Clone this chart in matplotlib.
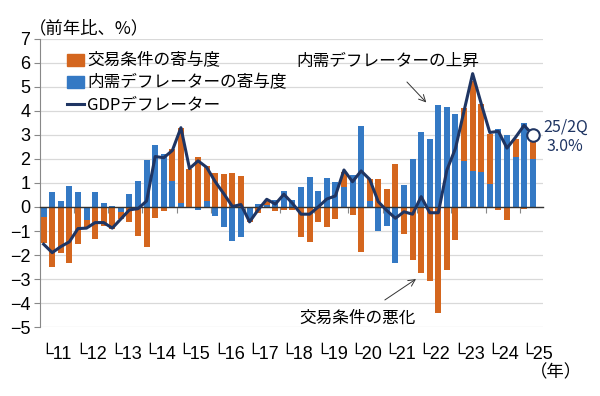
import numpy as np
import matplotlib.pyplot as plt
from matplotlib.patches import Patch
from matplotlib.lines import Line2D

plt.rcParams['font.family'] = ['Noto Sans CJK JP', 'DejaVu Sans']

# 2011Q1 .. 2025Q2 (前年比、%)
years = ['11', '12', '13', '14', '15', '16', '17', '18', '19', '20',
         '21', '22', '23', '24', '25']
domestic = [-0.4, 0.62, 0.25, 0.88, 0.62, -0.53, 0.63, 0.15, 0.03, -0.2,
            0.53, 1.1, 1.96, 2.58, 2.19, 1.07, 0.15, 0.0, -0.14, 0.26,
            -0.39, -0.82, -1.4, -1.26, -0.5, 0.11, 0.08, 0.3, 0.68, 0.29,
            0.85, 1.24, 0.68, 1.21, 1.03, 0.82, 1.33, 3.35, 0.25, -1.0,
            -0.78, -2.35, 0.92, 1.99, 3.11, 2.83, 4.25, 4.15, 3.86, 1.9,
            1.5, 1.46, 0.97, 3.25, 2.99, 2.07, 3.49, 1.99]
terms = [-1.1, -2.5, -1.9, -2.35, -1.55, -0.35, -1.33, -0.8, -0.9, -0.3,
         -0.64, -1.19, -1.68, -0.47, -0.17, 1.33, 3.13, 1.6, 2.07, 1.45,
         1.4, 1.37, 1.43, 1.29, -0.12, -0.27, 0.22, -0.17, -0.12, -0.13,
         -1.26, -1.45, -0.61, -0.82, -0.5, 0.62, -0.33, -1.89, 0.9, 1.15,
         0.75, 1.79, -1.13, -2.21, -2.74, -3.07, -4.43, -2.63, -1.39, 2.2,
         3.75, 2.83, 2.07, -0.12, -0.54, 0.76, -0.1, 0.75]
gdp_deflator = [-1.55, -1.9, -1.65, -1.45, -0.9, -0.88, -0.65, -0.65, -0.88, -0.5,
                -0.12, -0.07, 0.25, 2.1, 2.05, 2.35, 3.3, 1.6, 1.92, 1.65,
                1.05, 0.55, 0.02, 0.1, -0.62, -0.12, 0.32, 0.12, 0.53, 0.15,
                -0.3, -0.3, 0.0, 0.33, 0.46, 1.54, 1.05, 1.5, 1.15, 0.22,
                -0.15, -0.47, -0.2, -0.3, 0.43, -0.24, -0.24, 1.54, 2.44, 4.0,
                5.55, 4.3, 3.1, 3.15, 2.45, 2.9, 3.4, 3.0]

ORANGE = '#D4661E'
BLUE = '#3479C4'
NAVY = '#1F3563'

x = np.arange(len(gdp_deflator))
dom = np.array(domestic)
tot = np.array(terms)
# excel-style stacking: positives and negatives stack separately
tot_bottom = np.where(np.sign(tot) == np.sign(dom), dom, 0.0)

fig = plt.figure(figsize=(6, 3.96), dpi=100)
ax = fig.add_axes([0.067, 0.174, 0.838, 0.728])

ax.set_axisbelow(True)
ax.grid(axis='y', color='#D9D9D9', linewidth=0.9)
ax.bar(x, dom, width=0.7, color=BLUE, zorder=2)
ax.bar(x, tot, width=0.7, bottom=tot_bottom, color=ORANGE, zorder=2)
ax.plot(x, gdp_deflator, color=NAVY, linewidth=2.2, zorder=4,
        solid_joinstyle='round')
ax.plot(x[-1], gdp_deflator[-1], 'o', markersize=9, markerfacecolor='white',
        markeredgecolor=NAVY, markeredgewidth=1.5, zorder=5)

ax.set_ylim(-5, 7)
ax.set_xlim(-0.4, 58.2)
ax.set_yticks(range(-5, 8))
ax.set_yticklabels([str(v).replace('-', '\u2212') for v in range(-5, 8)],
                   family=['Liberation Sans', 'DejaVu Sans'], fontsize=13)
ax.tick_params(axis='y', length=4, color='#888888', pad=3)

for s in ['top', 'right']:
    ax.spines[s].set_visible(False)
ax.spines['left'].set_color('#888888')
ax.spines['bottom'].set_position(('data', 0))
ax.spines['bottom'].set_color('#333333')
ax.spines['bottom'].set_linewidth(1.0)
ax.spines['bottom'].set_zorder(3)
ax.set_xticks(np.arange(3.5, len(x), 4))
ax.set_xticklabels([])
ax.tick_params(axis='x', length=4, color='#888888', direction='out')

for k, yr in enumerate(years):
    ax.text(4 * k - 0.4, -0.095, '\u2514' + yr, transform=ax.get_xaxis_transform(),
            ha='left', va='center', fontsize=13,
            family=['Liberation Sans', 'DejaVu Sans'])

fig.text(0.048, 0.929, '（前年比、%）', fontsize=12.5, ha='left', va='center')
fig.text(0.927, 0.061, '（年）', fontsize=12.5, ha='center', va='center')

handles = [Patch(color=ORANGE), Patch(color=BLUE),
           Line2D([], [], color=NAVY, linewidth=2.2)]
labels = ['交易条件の寄与度', '内需デフレーターの寄与度', 'GDPデフレーター']
ax.legend(handles, labels, loc='upper left', bbox_to_anchor=(0.04, 0.975),
          frameon=False, fontsize=12, handlelength=1.0, handleheight=0.7,
          handletextpad=0.2, labelspacing=0.3, borderaxespad=0)

ax.annotate('内需デフレーターの上昇', xy=(44.6, 4.35), xytext=(40.1, 6.05),
            ha='center', va='center', fontsize=12,
            arrowprops=dict(arrowstyle='->', color='#333333', linewidth=0.7,
                            shrinkA=9, shrinkB=0))
ax.annotate('交易条件の悪化', xy=(43.4, -3.0), xytext=(36.6, -4.63),
            ha='center', va='center', fontsize=12,
            arrowprops=dict(arrowstyle='->', color='#333333', linewidth=0.7,
                            shrinkA=9, shrinkB=0))

ax.text(60.9, 3.33, '25/2Q', color=NAVY, fontsize=11.5, ha='center', va='center',
        clip_on=False)
ax.text(60.8, 2.5, '3.0%', color=NAVY, fontsize=11.5, ha='center', va='center',
        clip_on=False)

fig.savefig('out.png', dpi=100)
